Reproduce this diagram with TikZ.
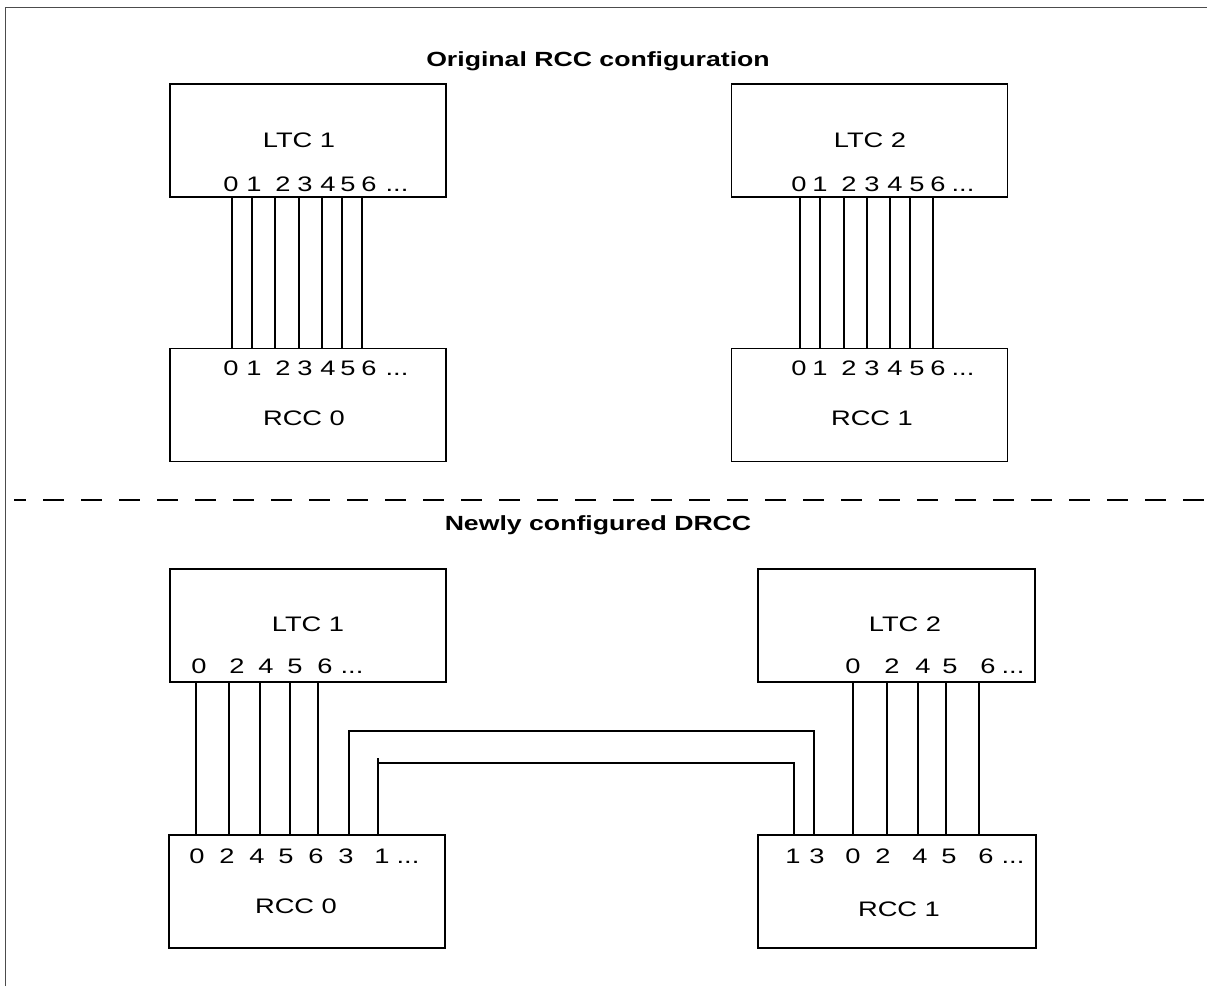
\documentclass[tikz,border=0pt]{standalone}
\usepackage{fontspec}
\setmainfont{Liberation Sans}[FakeStretch=1.3]
\usetikzlibrary{positioning}

\begin{document}
\begin{tikzpicture}[x=1pt, y=-1pt,
    box/.style={draw, line width=1.8pt, minimum width=276pt,
                minimum height=113pt, inner sep=0pt},
    lbl/.style={font=\fontsize{21}{24}\selectfont, anchor=base, inner sep=0pt},
    port/.style={font=\fontsize{21}{24}\selectfont, anchor=base, inner sep=0pt},
    ttl/.style={font=\fontsize{20.5}{24}\selectfont\bfseries, anchor=base, inner sep=0pt},
    wire/.style={line width=1.3pt}
  ]
    \useasboundingbox (0,0) rectangle (1207,986);
    \draw[line width=0.8pt, black!70] (5,986) -- (5,7) -- (1207,7);

    % Original RCC configuration
    \node[ttl] (ttlA) at (598,66) {Original RCC configuration};
    \node[box] (ltcA) at (308,140.5) {};
    \node[box] (rccA) at (308,405) {};
    \node[box] (ltcB) at (869.5,140.5) {};
    \node[box] (rccB) at (869.5,405) {};
    \node[lbl] (ltcAname) at (299,147) {LTC 1};
    \node[lbl] (rccAname) at (304,425) {RCC 0};
    \node[lbl] (ltcBname) at (870,147) {LTC 2};
    \node[lbl] (rccBname) at (872,425) {RCC 1};

    \foreach \x/\n in {231/0,254/1,283/2,305/3,328/4,348/5,369/6} {
      \node[port] (ltcAp\n) at (\x,191) {\n};
      \node[port] (rccAp\n) at (\x,375) {\n};
    }
    \node[port] (ltcAdots) at (397,191) {...};
    \node[port] (rccAdots) at (397,375) {...};
    \foreach \x/\n in {799/0,820/1,849/2,872/3,895/4,917/5,938/6} {
      \node[port] (ltcBp\n) at (\x,191) {\n};
      \node[port] (rccBp\n) at (\x,375) {\n};
    }
    \node[port] (ltcBdots) at (963,191) {...};
    \node[port] (rccBdots) at (963,375) {...};
    \foreach \x in {232,252,275,299,322,342,362}
      \draw[wire] (ltcA.south -| \x,0) -- (rccA.north -| \x,0);
    \foreach \x in {800,820,844,867,890,910,933}
      \draw[wire] (ltcB.south -| \x,0) -- (rccB.north -| \x,0);

    % Separator
    \coordinate (sepL) at (14,500);
    \coordinate (sepR) at (1207,500);
    \draw[line width=2pt, dash pattern=on 21pt off 17pt, dash phase=9pt] (sepL) -- (sepR);

    % Newly configured DRCC
    \node[ttl] (ttlB) at (598,530) {Newly configured DRCC};
    \node[box] (ltcC) at (308,625.5) {};
    \node[box] (rccC) at (307,891.5) {};
    \node[box, minimum width=277pt] (ltcD) at (896.5,625.5) {};
    \node[box, minimum width=278pt] (rccD) at (897,891.5) {};
    \node[lbl] (ltcCname) at (308,631) {LTC 1};
    \node[lbl] (rccCname) at (296,913) {RCC 0};
    \node[lbl] (ltcDname) at (905,631) {LTC 2};
    \node[lbl] (rccDname) at (899,916) {RCC 1};

    \foreach \x/\n in {199/0,237/2,266/4,295/5,325/6}
      \node[port] (ltcCp\n) at (\x,673) {\n};
    \node[port] (ltcCdots) at (352,673) {...};
    \foreach \x/\n in {197/0,227/2,257/4,286/5,316/6,346/3,382/1}
      \node[port] (rccCp\n) at (\x,863) {\n};
    \node[port] (rccCdots) at (408,863) {...};
    \foreach \x/\n in {853/0,892/2,923/4,950/5,988/6}
      \node[port] (ltcDp\n) at (\x,673) {\n};
    \node[port] (ltcDdots) at (1013,673) {...};
    \foreach \x/\n in {793/1,817/3,853/0,883/2,920/4,949/5,986/6}
      \node[port] (rccDp\n) at (\x,863) {\n};
    \node[port] (rccDdots) at (1013,863) {...};

    \foreach \x in {196,229,260,290,318}
      \draw[wire] (ltcC.south -| \x,0) -- (rccC.north -| \x,0);
    \foreach \x in {853,887,918,946,979}
      \draw[wire] (ltcD.south -| \x,0) -- (rccD.north -| \x,0);

    % Crossed ports 3 and 1
    \draw[wire] (rccC.north -| 349,0) |- (814,731) -- (rccD.north -| 814,0);
    \draw[wire] (rccC.north -| 378,0) -- (378,758) |- (794,763) -- (rccD.north -| 794,0);
\end{tikzpicture}
\end{document}
